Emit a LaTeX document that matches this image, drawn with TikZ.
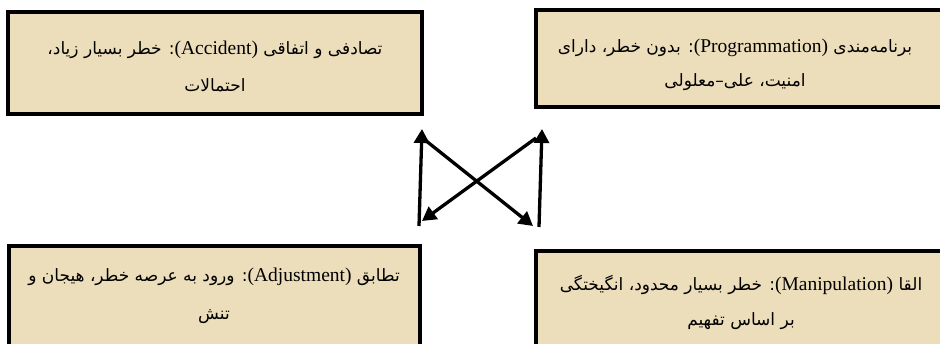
\documentclass[tikz,border=0pt]{standalone}
\usepackage{fontspec}
\setmainfont{Liberation Serif}
\newfontfamily\arabicfont[Script=Arabic]{DejaVu Sans}
\TeXXeTstate=1
\usetikzlibrary{arrows.meta}
\definecolor{parch}{RGB}{237,222,187}
\newcommand\lat[1]{\beginL{\rmfamily\fontsize{19.5}{23}\selectfont #1}\endL}
\tikzset{
  card/.style={draw=black, line width=4pt, fill=parch, rectangle, inner sep=0pt},
  txt/.style={anchor=base, inner sep=0pt, font=\arabicfont\fontsize{17}{21}\selectfont},
  link/.style={line width=3.3pt, -{Triangle[length=14pt,width=15pt]}},
}
\begin{document}
\begin{tikzpicture}[x=1pt,y=-1pt]
\useasboundingbox (0,0) rectangle (940,343);
\clip (0,0) rectangle (940,343);
% boxes
\node[card, minimum width=414pt, minimum height=102pt] (tl) at (215,63) {};
\node[card, minimum width=424pt, minimum height=97pt] (tr) at (748,58.5) {};
\node[card, minimum width=411pt, minimum height=124pt] (bl) at (214.5,308) {};
\node[card, minimum width=424pt, minimum height=119pt] (br) at (748,310.5) {};
% texts
\node[txt] (tl1) at (215,54) {\beginR تصادفی و اتفاقی \lat{(Accident)}: خطر بسیار زیاد،\endR};
\node[txt] (tl2) at (215,91) {\beginR احتمالات\endR};
\node[txt] (tr1) at (735,52) {\beginR برنامه‌مندی \lat{(Programmation)}: بدون خطر، دارای\endR};
\node[txt] (tr2) at (735,86) {\beginR امنیت، علی–معلولی\endR};
\node[txt] (bl1) at (214,281) {\beginR تطابق \lat{(Adjustment)}: ورود به عرصه خطر، هیجان و\endR};
\node[txt] (bl2) at (214,319) {\beginR تنش\endR};
\node[txt] (br1) at (741,290) {\beginR القا \lat{(Manipulation)}: خطر بسیار محدود، انگیختگی\endR};
\node[txt] (br2) at (741,325) {\beginR بر اساس تفهیم\endR};
% arrows
\coordinate (a1s) at (419,226); \coordinate (a1e) at (422,129);
\coordinate (a2s) at (536,138); \coordinate (a2e) at (422,221);
\coordinate (a3s) at (425,140); \coordinate (a3e) at (533,226);
\coordinate (a4s) at (539,227); \coordinate (a4e) at (542,129);
\draw[link] (a1s) -- (a1e);
\draw[link] (a2s) -- (a2e);
\draw[link] (a3s) -- (a3e);
\draw[link] (a4s) -- (a4e);
\end{tikzpicture}
\end{document}
